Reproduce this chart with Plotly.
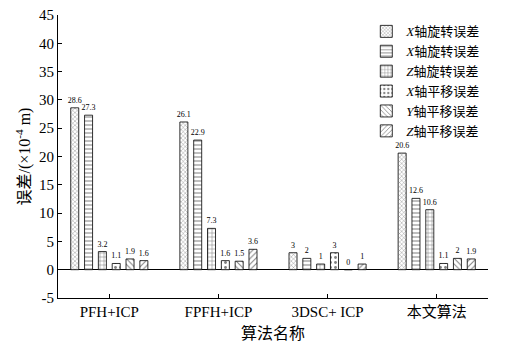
import plotly.graph_objects as go

categories = ["PFH+ICP", "FPFH+ICP", "3DSC+ ICP", "本文算法"]
series_names = ["<i>X</i>轴旋转误差", "<i>X</i>轴旋转误差", "<i>Z</i>轴旋转误差",
                "<i>X</i>轴平移误差", "<i>Y</i>轴平移误差", "<i>Z</i>轴平移误差"]
x_rot = [28.6, 26.1, 3, 20.6]
y_rot = [27.3, 22.9, 2, 12.6]
z_rot = [3.2, 7.3, 1, 10.6]
x_trans = [1.1, 1.6, 3, 1.1]
y_trans = [1.9, 1.5, 0, 2]
z_trans = [1.6, 3.6, 1, 1.9]
series_values = [x_rot, y_rot, z_rot, x_trans, y_trans, z_trans]
y_ticks = [-5, 0, 5, 10, 15, 20, 25, 30, 35, 40, 45]
y_tick_labels = [str(v) for v in y_ticks]

patterns = ["x", "-", "+", ".", "\\", "/"]
sizes = [3, 4, 4, 5, 4, 4]

FONT = "Liberation Serif, Times New Roman, Noto Sans CJK SC"

fig = go.Figure()
for name, vals, pat, sz in zip(series_names, series_values, patterns, sizes):
    fig.add_trace(go.Bar(
        x=categories, y=vals, name=name,
        marker=dict(color="white", line=dict(color="black", width=0.8),
                    pattern=dict(shape=pat, fgcolor="black", bgcolor="white",
                                 size=sz, solidity=0.25)),
        text=[str(v) for v in vals], textposition="outside",
        textfont=dict(size=8, family=FONT, color="black"),
        outsidetextfont=dict(size=8, family=FONT, color="black"),
        constraintext="none",
        cliponaxis=False,
    ))

# page body has an 8px default margin, so the figure is sized to fit the window
fig.update_layout(
    width=509, height=342,
    margin=dict(l=50, r=29, t=7, b=52),
    paper_bgcolor="white", plot_bgcolor="white",
    barmode="group", bargap=0.24, bargroupgap=0.42,
    font=dict(family=FONT, color="black", size=15),
    showlegend=True,
    legend=dict(x=0.717, y=0.995, xanchor="left", yanchor="top",
                font=dict(size=13, family=FONT), tracegroupgap=0,
                bgcolor="rgba(0,0,0,0)", itemwidth=30),
    xaxis=dict(range=[-0.47, 3.47], showline=True, linecolor="black", linewidth=1,
               ticks="inside", ticklen=4, tickcolor="black", mirror=False,
               automargin=False, ticklabeloverflow="allow",
               tickfont=dict(size=15, family=FONT),
               title=dict(text="算法名称", font=dict(size=16, family="Noto Sans CJK SC"), standoff=2)),
    yaxis=dict(range=[-5, 45], tickvals=y_ticks, ticktext=y_tick_labels, showline=True,
               linecolor="black",
               linewidth=1, ticks="inside", ticklen=4, tickcolor="black",
               showgrid=False, zeroline=True, zerolinecolor="black", zerolinewidth=1,
               automargin=False, ticklabeloverflow="allow",
               tickfont=dict(size=15, family=FONT),
               title=dict(text="误差/(×10<sup>-4</sup> m)", font=dict(size=16, family=FONT), standoff=4)),
)

fig.write_html("out.html")
